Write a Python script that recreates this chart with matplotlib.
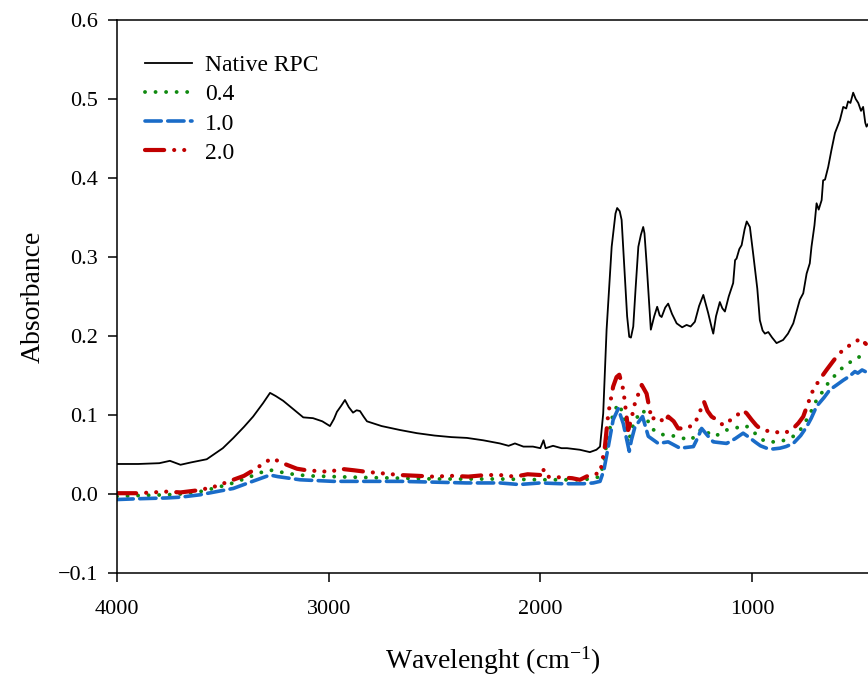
import matplotlib
matplotlib.use('Agg')
import matplotlib.pyplot as plt

plt.rcParams['font.family'] = ['Liberation Serif', 'DejaVu Serif']
plt.rcParams['mathtext.fontset'] = 'custom'
plt.rcParams['mathtext.rm'] = 'Liberation Serif'
plt.rcParams['mathtext.it'] = 'Liberation Serif:italic'

# wavenumber (cm-1) / absorbance
native_x = [4000, 3900, 3800, 3750, 3700, 3650, 3576, 3500, 3450, 3400, 3357, 3310, 3277, 3250, 3215,
            3170, 3120, 3074, 3030, 2994, 2975, 2961, 2940, 2923, 2905, 2885, 2868, 2852, 2835, 2819,
            2750, 2663, 2583, 2500, 2420, 2347, 2270, 2191, 2150, 2120, 2080, 2035, 2000, 1985, 1975,
            1940, 1900, 1874, 1813, 1766, 1735, 1718, 1703, 1687, 1663, 1645, 1637, 1625, 1616, 1600,
            1590, 1580, 1572, 1561, 1550, 1537, 1525, 1514, 1508, 1498, 1478, 1462, 1448, 1436, 1427,
            1410, 1396, 1378, 1356, 1330, 1309, 1290, 1270, 1250, 1230, 1218, 1207, 1190, 1183, 1170,
            1152, 1140, 1128, 1110, 1089, 1080, 1073, 1060, 1049, 1035, 1025, 1010, 994, 975, 963,
            950, 939, 923, 905, 884, 868, 853, 830, 805, 774, 758, 742, 727, 719, 705,
            695, 685, 671, 664, 655, 640, 625, 608, 585, 569, 555, 546, 535, 522, 510,
            498, 485, 475, 465, 459, 452]
native_y = [0.038, 0.038, 0.039, 0.042, 0.037, 0.040, 0.044, 0.058, 0.071, 0.085, 0.098, 0.115, 0.128, 0.124, 0.118,
            0.108, 0.097, 0.096, 0.092, 0.086, 0.095, 0.104, 0.112, 0.119, 0.110, 0.103, 0.106, 0.105, 0.098, 0.092,
            0.086, 0.081, 0.077, 0.074, 0.072, 0.071, 0.068, 0.064, 0.061, 0.064, 0.060, 0.060, 0.058, 0.068, 0.058,
            0.061, 0.058, 0.058, 0.056, 0.053, 0.056, 0.060, 0.102, 0.208, 0.313, 0.355, 0.362, 0.358, 0.347, 0.271,
            0.225, 0.199, 0.198, 0.212, 0.260, 0.313, 0.328, 0.338, 0.330, 0.292, 0.208, 0.225, 0.237, 0.226, 0.224,
            0.236, 0.241, 0.228, 0.216, 0.211, 0.214, 0.212, 0.218, 0.238, 0.252, 0.240, 0.229, 0.210, 0.203, 0.225,
            0.243, 0.235, 0.231, 0.250, 0.267, 0.296, 0.298, 0.310, 0.315, 0.335, 0.345, 0.338, 0.303, 0.260, 0.220,
            0.207, 0.203, 0.205, 0.198, 0.191, 0.193, 0.195, 0.203, 0.216, 0.246, 0.254, 0.279, 0.292, 0.313, 0.340,
            0.368, 0.360, 0.372, 0.397, 0.398, 0.414, 0.435, 0.457, 0.473, 0.490, 0.488, 0.497, 0.495, 0.508, 0.500,
            0.495, 0.485, 0.490, 0.470, 0.465, 0.468]

c04_x = [4000, 3900, 3765, 3700, 3608, 3530, 3451, 3370, 3293, 3260, 3198, 3100, 2978, 2850, 2663,
         2500, 2350, 2191, 2000, 1900, 1797, 1750, 1718, 1700, 1687, 1656, 1632, 1608, 1585, 1570,
         1553, 1514, 1495, 1482, 1450, 1419, 1356, 1293, 1260, 1238, 1210, 1183, 1150, 1120, 1080,
         1042, 1020, 994, 960, 931, 900, 868, 840, 805, 770, 742, 720, 695, 660, 632,
         600, 569, 540, 514, 498, 480, 465]
c04_y = [-0.003, -0.002, -0.001, 0.000, 0.003, 0.008, 0.014, 0.022, 0.030, 0.030, 0.026, 0.023, 0.022, 0.021, 0.020,
         0.019, 0.019, 0.019, 0.018, 0.018, 0.018, 0.020, 0.022, 0.040, 0.064, 0.102, 0.114, 0.102, 0.064, 0.080,
         0.094, 0.106, 0.095, 0.085, 0.078, 0.075, 0.073, 0.068, 0.075, 0.083, 0.078, 0.073, 0.076, 0.081, 0.083,
         0.087, 0.085, 0.079, 0.070, 0.066, 0.066, 0.066, 0.069, 0.073, 0.082, 0.094, 0.105, 0.119, 0.132, 0.144,
         0.152, 0.161, 0.166, 0.172, 0.173, 0.175, 0.172]

c10_x = [4000, 3900, 3765, 3700, 3608, 3530, 3451, 3370, 3277, 3240, 3135, 2978, 2850, 2663, 2500,
         2350, 2191, 2100, 2000, 1900, 1797, 1750, 1718, 1700, 1679, 1656, 1632, 1608, 1580, 1570,
         1553, 1517, 1490, 1443, 1396, 1340, 1277, 1255, 1238, 1210, 1183, 1120, 1080, 1042, 1015,
         986, 960, 931, 900, 868, 840, 805, 770, 742, 720, 695, 660, 632, 600, 569,
         540, 514, 500, 480, 465]
c10_y = [-0.007, -0.006, -0.005, -0.004, -0.001, 0.003, 0.007, 0.015, 0.024, 0.022, 0.018, 0.016, 0.016, 0.016, 0.015,
         0.014, 0.014, 0.012, 0.014, 0.013, 0.013, 0.014, 0.016, 0.030, 0.060, 0.094, 0.108, 0.089, 0.054, 0.068,
         0.085, 0.098, 0.073, 0.064, 0.066, 0.058, 0.060, 0.072, 0.083, 0.074, 0.066, 0.064, 0.070, 0.077, 0.072,
         0.066, 0.061, 0.058, 0.057, 0.058, 0.060, 0.064, 0.074, 0.085, 0.096, 0.111, 0.122, 0.132, 0.138, 0.144,
         0.149, 0.155, 0.153, 0.157, 0.155]

c20_x = [4000, 3900, 3765, 3700, 3608, 3530, 3451, 3400, 3356, 3300, 3270, 3240, 3198, 3150, 3104,
         3050, 2990, 2947, 2880, 2820, 2740, 2663, 2580, 2506, 2420, 2340, 2260, 2191, 2120, 2060,
         2000, 1988, 1975, 1900, 1850, 1813, 1760, 1718, 1695, 1679, 1656, 1640, 1627, 1608, 1585,
         1570, 1553, 1521, 1498, 1474, 1455, 1435, 1415, 1396, 1370, 1349, 1309, 1270, 1245, 1227,
         1210, 1191, 1167, 1136, 1110, 1089, 1060, 1042, 1025, 1002, 980, 963, 930, 900, 853,
         830, 805, 780, 758, 735, 711, 680, 648, 620, 600, 575, 553, 525, 498, 490, 462]
c20_y = [0.001, 0.001, 0.003, 0.002, 0.005, 0.010, 0.018, 0.023, 0.030, 0.040, 0.045, 0.042, 0.037, 0.032, 0.030,
         0.029, 0.028, 0.032, 0.030, 0.028, 0.026, 0.024, 0.023, 0.022, 0.023, 0.022, 0.024, 0.024, 0.022, 0.025,
         0.024, 0.033, 0.022, 0.021, 0.020, 0.018, 0.025, 0.026, 0.060, 0.102, 0.136, 0.148, 0.151, 0.132, 0.081,
         0.095, 0.115, 0.138, 0.127, 0.094, 0.098, 0.096, 0.090, 0.098, 0.092, 0.083, 0.083, 0.089, 0.105, 0.117,
         0.105, 0.098, 0.094, 0.087, 0.092, 0.096, 0.102, 0.106, 0.102, 0.094, 0.087, 0.083, 0.080, 0.079, 0.077,
         0.079, 0.083, 0.090, 0.098, 0.115, 0.132, 0.145, 0.157, 0.167, 0.174, 0.181, 0.186, 0.190, 0.195, 0.197, 0.190]

y_ticks = [-0.1, 0.0, 0.1, 0.2, 0.3, 0.4, 0.5, 0.6]
x_ticks = [4000, 3000, 2000, 1000]

fig = plt.figure(figsize=(8.68, 6.75), dpi=100)
ax = fig.add_axes([117 / 868, 102 / 675, 751 / 868, 553 / 675])

ax.plot(native_x, native_y, color='black', lw=1.3, label='Native RPC')
ax.plot(c04_x, c04_y, color='#108a10', lw=2.8, linestyle=(0, (0.01, 2.7)),
        dash_capstyle='round', label='0.4')
ax.plot(c10_x, c10_y, color='#1a6cc8', lw=2.6, linestyle=(0, (4.5, 1.8)),
        dash_capstyle='round', label='1.0')
ax.plot(c20_x, c20_y, color='#c00000', lw=3.0,
        linestyle=(0, (4.6, 2.4, 0.01, 2.4, 0.01, 2.4, 0.01, 2.4)),
        dash_capstyle='round', label='2.0')

ax.set_xlim(4000, 452)
ax.set_ylim(-0.1, 0.6)
ax.set_xticks(x_ticks)
ax.set_yticks(y_ticks)
ax.set_yticklabels(['\u22120.1'] + ['%.1f' % v for v in y_ticks[1:]])

for side in ['left', 'bottom', 'top']:
    ax.spines[side].set_linewidth(1.1)
ax.spines['right'].set_visible(False)
ax.tick_params(axis='both', direction='out', length=6.5, width=1.1, labelsize=16)
ax.tick_params(axis='x', pad=13)
ax.tick_params(axis='y', pad=7)

ax.set_xlabel(r'Wavelenght (cm$^{\mathregular{-1}}$)', fontsize=20, labelpad=18)
ax.set_ylabel('Absorbance', fontsize=20, labelpad=9)

ax.legend(loc='upper left', bbox_to_anchor=(0.037, 0.937), frameon=False, fontsize=17,
          handlelength=2.0, handletextpad=0.55, labelspacing=0.32, borderpad=0, borderaxespad=0)

fig.savefig('out.png', dpi=100)
